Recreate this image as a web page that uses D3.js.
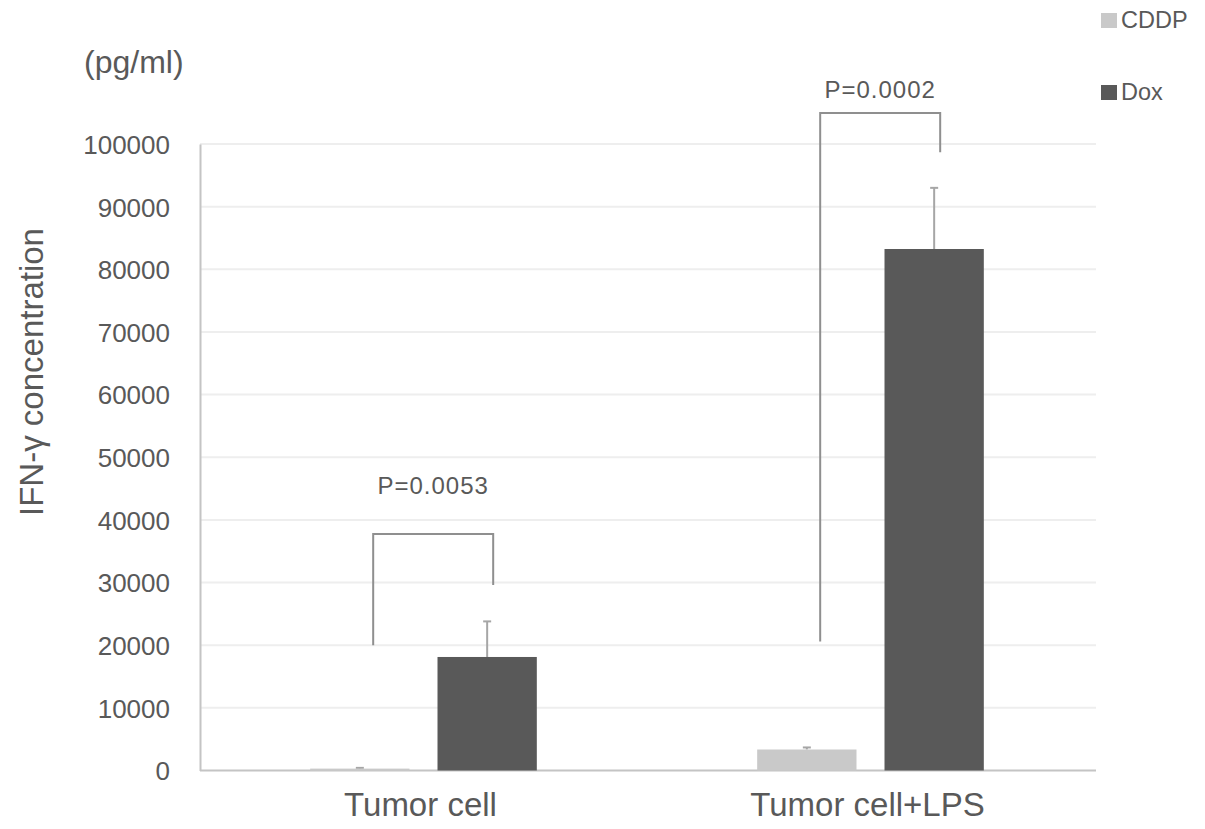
<!DOCTYPE html>
<html>
<head>
<meta charset="utf-8">
<script src="https://cdn.jsdelivr.net/npm/d3@7"></script>
<style>
  html, body { margin: 0; padding: 0; background: #ffffff; }
  svg { display: block; font-family: "Liberation Sans", Arial, sans-serif; }
</style>
</head>
<body>
<svg id="chart" width="1205" height="829"></svg>
<script>
// ---- data ----
const categories = ["Tumor cell", "Tumor cell+LPS"];
const seriesNames = ["CDDP", "Dox"];
const cddpValues = [300, 3350];
const cddpErrTop = [420, 3680];
const doxValues = [18120, 83240];
const doxErrTop = [23800, 93000];
const yTicks = [0, 10000, 20000, 30000, 40000, 50000, 60000, 70000, 80000, 90000, 100000];
const pLabels = ["P=0.0053", "P=0.0002"];
const bracketLeftEnd = [20000, 20600];
const bracketTop = [37750, 104950];
const bracketRightEnd = [29600, 98700];
const pLabelValue = [44100, 107300];

// ---- setup ----
const svg = d3.select("#chart");
const colors = { CDDP: "#c9c9c9", Dox: "#595959" };
const textColor = "#595959";

const x0 = d3.scaleBand().domain(categories).range([200, 1094]).paddingInner(0.493).paddingOuter(0.2465);
const x1 = d3.scaleBand().domain(seriesNames).range([0, x0.bandwidth()]).paddingInner(0.22).paddingOuter(0);
const y = d3.scaleLinear().domain([0, 100000]).range([770.5, 144]);

// gridlines
svg.append("g").selectAll("line").data(yTicks.filter(d => d > 0)).join("line")
  .attr("x1", 200).attr("x2", 1096)
  .attr("y1", d => y(d)).attr("y2", d => y(d))
  .attr("stroke", "#eeeeee").attr("stroke-width", 2);

// y axis
const yAxis = svg.append("g").attr("transform", "translate(200,0)")
  .call(d3.axisLeft(y).tickValues(yTicks).tickFormat(d3.format("d")).tickSize(0).tickPadding(30));
yAxis.select(".domain").attr("stroke", "#c4c4c4").attr("stroke-width", 2);
yAxis.selectAll("text").attr("fill", textColor).style("font-size", "26px").attr("dy", "0.36em")
  .style("font-family", "'Liberation Sans', Arial, sans-serif");

// x axis
const xAxis = svg.append("g").attr("transform", "translate(0,770.5)")
  .call(d3.axisBottom(x0).tickSize(0).tickPadding(22).tickSizeOuter(0));
xAxis.select(".domain").attr("stroke", "#c4c4c4").attr("stroke-width", 2).attr("d", "M200,0H1096");
xAxis.selectAll("text").attr("fill", textColor).style("font-size", "33px")
  .style("font-family", "'Liberation Sans', Arial, sans-serif")
  .attr("transform", "translate(-3,0)");

// bars
const rows = categories.map((c, i) => ({
  cat: c,
  items: [
    { s: "CDDP", v: cddpValues[i], e: cddpErrTop[i] },
    { s: "Dox", v: doxValues[i], e: doxErrTop[i] }
  ]
}));

const groups = svg.append("g").selectAll("g").data(rows).join("g")
  .attr("transform", d => `translate(${x0(d.cat)},0)`);

// error bars (drawn before bars)
groups.selectAll("g.err").data(d => d.items).join("g").attr("class", "err").each(function(d) {
  const g = d3.select(this);
  const cx = x1(d.s) + x1.bandwidth() / 2;
  g.append("line").attr("x1", cx).attr("x2", cx).attr("y1", y(d.v)).attr("y2", y(d.e))
    .attr("stroke", "#a6a6a6").attr("stroke-width", 2);
  g.append("line").attr("x1", cx - 4).attr("x2", cx + 4).attr("y1", y(d.e)).attr("y2", y(d.e))
    .attr("stroke", "#a6a6a6").attr("stroke-width", 2);
});

groups.selectAll("rect").data(d => d.items).join("rect")
  .attr("x", d => x1(d.s))
  .attr("width", x1.bandwidth())
  .attr("y", d => y(d.v))
  .attr("height", d => y(0) - y(d.v))
  .attr("fill", d => colors[d.s]);

// brackets
categories.forEach((c, i) => {
  const lx = x0(c) + 63;
  const rx = x0(c) + 183;
  svg.append("path")
    .attr("d", `M${lx},${y(bracketLeftEnd[i])}V${y(bracketTop[i])}H${rx}V${y(bracketRightEnd[i])}`)
    .attr("fill", "none").attr("stroke", "#8f8f8f").attr("stroke-width", 2);
  svg.append("text")
    .attr("x", (lx + rx) / 2).attr("y", y(pLabelValue[i]))
    .attr("text-anchor", "middle").attr("fill", textColor)
    .style("font-size", "24px").style("letter-spacing", "1px")
    .text(pLabels[i]);
});

// unit label
svg.append("text").attr("x", 84).attr("y", 73).attr("fill", textColor)
  .style("font-size", "32px").text("(pg/ml)");

// y title
svg.append("text").attr("transform", "translate(43,372) rotate(-90)")
  .attr("text-anchor", "middle").attr("fill", textColor)
  .style("font-size", "33px").text("IFN-γ concentration");

// legend
const legendY = [13, 85];
seriesNames.forEach((s, i) => {
  svg.append("rect").attr("x", 1101).attr("y", legendY[i]).attr("width", 16).attr("height", 15)
    .attr("fill", colors[s]);
  svg.append("text").attr("x", 1121).attr("y", legendY[i] + 15).attr("fill", textColor)
    .style("font-size", "23.5px").text(s);
});
</script>
</body>
</html>
